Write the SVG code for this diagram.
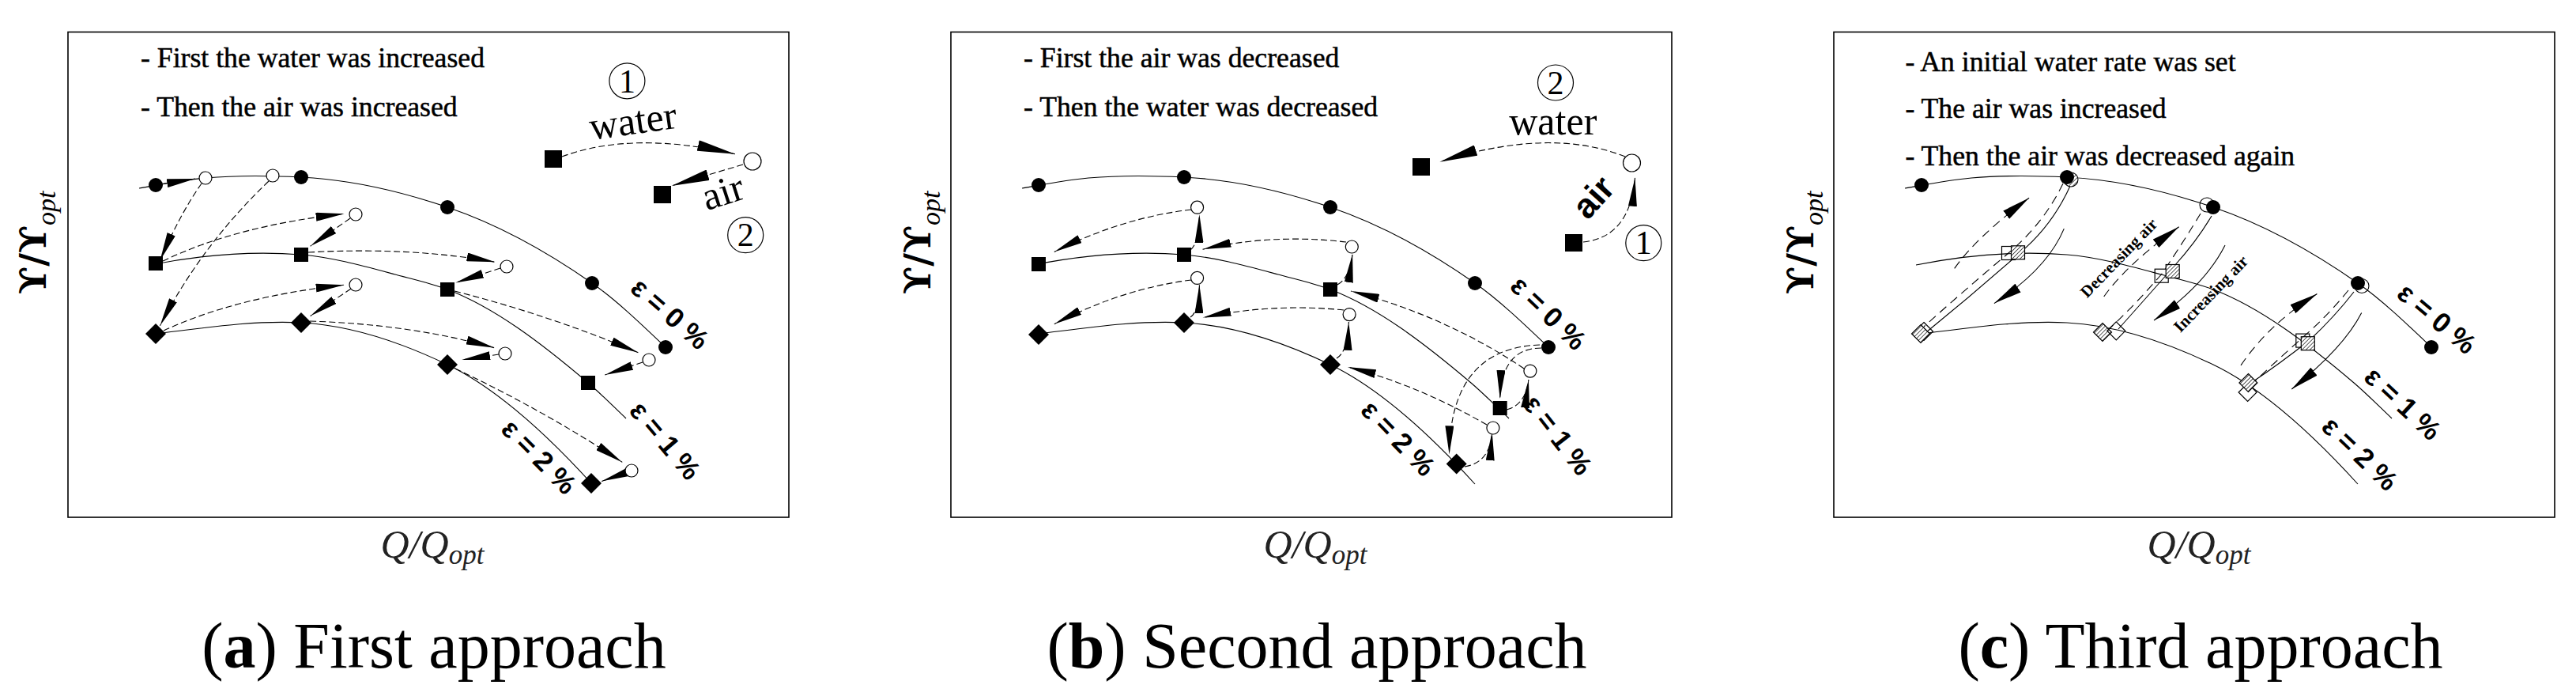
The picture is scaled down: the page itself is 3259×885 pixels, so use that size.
<svg xmlns="http://www.w3.org/2000/svg" xmlns:xlink="http://www.w3.org/1999/xlink" width="3259" height="885" viewBox="0 0 3259 885">
<style>
.frame{fill:none;stroke:#000;stroke-width:1.6}
.curve{fill:none;stroke:#000;stroke-width:1.1}
.dash{fill:none;stroke:#000;stroke-width:1.1;stroke-dasharray:8 4;marker-end:url(#ah)}
.dashL{fill:none;stroke:#000;stroke-width:1.1;stroke-dasharray:8 4;marker-end:url(#ahL)}
.dashc{fill:none;stroke:#000;stroke-width:1.1;stroke-dasharray:11 7}
.dashcA{fill:none;stroke:#000;stroke-width:1.1;stroke-dasharray:11 7;marker-end:url(#ahC)}
.solidA{fill:none;stroke:#000;stroke-width:1.1;marker-end:url(#ahC)}
.thin{fill:none;stroke:#000;stroke-width:1.1}
.ring{fill:none;stroke:#000;stroke-width:1.2}
.note{font-family:"Liberation Serif",serif;font-size:35.7px;fill:#000;stroke:#000;stroke-width:0.5}
.eps{font-family:"Liberation Sans",sans-serif;font-weight:bold;font-size:35px;text-anchor:middle}
.big{font-family:"Liberation Serif",serif;font-size:50px;text-anchor:middle}
.bigs{font-family:"Liberation Sans",sans-serif;font-weight:bold;font-size:44px;text-anchor:middle}
.num{font-family:"Liberation Serif",serif;font-size:42px;text-anchor:middle}
.tag{font-family:"Liberation Serif",serif;font-weight:bold;font-size:21px;text-anchor:middle}
.xl{font-family:"Liberation Serif",serif;font-style:italic;font-size:50px;fill:#222;text-anchor:middle}
.yl{font-family:"DejaVu Serif",serif;font-weight:bold;font-size:46px}
.cap{font-family:"Liberation Serif",serif;font-size:82px;text-anchor:middle}
</style>
<defs>
<marker id="ah" viewBox="0 0 36 11" refX="36" refY="5.5" markerWidth="36" markerHeight="11" markerUnits="userSpaceOnUse" orient="auto"><path d="M0,0 L36,5.5 L0,11 Z" fill="#000"/></marker>
<marker id="ahL" viewBox="0 0 48 14" refX="48" refY="7" markerWidth="48" markerHeight="14" markerUnits="userSpaceOnUse" orient="auto"><path d="M0,0 L48,7 L0,14 Z" fill="#000"/></marker>
<marker id="ahC" viewBox="0 0 36 13" refX="36" refY="6.5" markerWidth="36" markerHeight="13" markerUnits="userSpaceOnUse" orient="auto"><path d="M0,0 L36,6.5 L0,13 Z" fill="#000"/></marker>
<pattern id="hatch" patternUnits="userSpaceOnUse" width="3.5" height="3.5" patternTransform="rotate(45)"><rect width="3.5" height="3.5" fill="#fff"/><line x1="0" y1="0" x2="0" y2="3.5" stroke="#000" stroke-width="1.3"/></pattern>
<path id="top" d="M176,238 C204,233 232,227.5 260,225 C300.3,221.4 340.7,222 381,224 C442.7,227.1 504.3,241 566,262 C627,282.7 688,315.3 749,358 C780,379.7 811,409.5 842,439"/>
<path id="mid" d="M190,335 C253.7,322.3 317.3,316.9 381,322 C420.7,325.2 460.3,336.3 500,347 C522,352.9 544,357.6 566,366 C625.3,388.5 684.7,433.6 744,484 C760,497.6 776,513.8 792,529"/>
<path id="bot" d="M197,422 C258.3,414.6 319.7,404.9 381,408 C442.7,411.1 504.3,431.4 566,461 C627,490.3 688,544.9 749,612"/>
<circle id="fc" r="9" fill="#000"/>
<circle id="oc" r="8" fill="#fff" stroke="#000" stroke-width="1.2"/>
<rect id="sq" x="-9" y="-9" width="18" height="18" fill="#000"/>
<path id="dm" d="M0,-13 L13,0 L0,13 L-13,0 Z" fill="#000"/>
<rect id="sqL" x="-11" y="-11" width="22" height="22" fill="#000"/>
<circle id="ocL" r="11" fill="#fff" stroke="#000" stroke-width="1.2"/>
<rect id="sqo" x="-8.5" y="-8.5" width="17" height="17" fill="none" stroke="#000" stroke-width="1.2"/>
<rect id="sqh" x="-8.5" y="-8.5" width="17" height="17" fill="url(#hatch)" stroke="#000" stroke-width="1.2"/>
<path id="dmo" d="M0,-11.5 L11.5,0 L0,11.5 L-11.5,0 Z" fill="none" stroke="#000" stroke-width="1.2"/>
<path id="dmh" d="M0,-11.5 L11.5,0 L0,11.5 L-11.5,0 Z" fill="url(#hatch)" stroke="#000" stroke-width="1.2"/>
<circle id="och" r="9" fill="url(#hatch)" stroke="#000" stroke-width="1.1"/>
<circle id="oco" r="9" fill="none" stroke="#000" stroke-width="1.1"/>
</defs>
<rect width="3259" height="885" fill="#fff"/>

<!-- ================= PANEL A ================= -->
<g id="panel-a">
<rect class="frame" x="86" y="40.5" width="912" height="613.5"/>
<text class="note" x="178" y="85">- First the water was increased</text>
<text class="note" x="178" y="146.5">- Then the air was increased</text>
<g id="a-curves">
<use href="#top" class="curve"/><use href="#mid" class="curve"/><use href="#bot" class="curve"/>
</g>
<g id="a-connectors">
<path class="dash" d="M206,232.5 L247,226"/>
<path class="dash" d="M255,232 Q228,270 202.5,329.3"/>
<path class="dash" d="M340,229 Q255,310 202.5,411.7"/>
<path class="dash" d="M206,330 Q300,285 435.6,270.3"/>
<path class="dash" d="M443,276 L392.6,311.2"/>
<path class="dash" d="M390,319 Q520,312 626.4,331.3"/>
<path class="dash" d="M633,339 L576.2,357.4"/>
<path class="dash" d="M207,418 Q300,375 435.6,360.2"/>
<path class="dash" d="M444,365 L392.6,399.6"/>
<path class="dash" d="M392,406 Q520,410 625.6,439.8"/>
<path class="dash" d="M631,448 L584.2,455"/>
<path class="dash" d="M575,368 Q700,400 807.4,445.8"/>
<path class="dash" d="M813,458 L765.3,474"/>
<path class="dash" d="M576,466 Q690,520 787.3,584.4"/>
<path class="dash" d="M791,598 L761.2,608.5"/>
<path class="dashL" d="M711,198 Q800,165 930,194.7"/>
<path class="dashL" d="M940,208 L849.6,234.9"/>
</g>
<g id="a-c1"><use href="#fc" x="197" y="234"/></g>
<g id="a-c2"><use href="#fc" x="381" y="224"/></g>
<g id="a-c3"><use href="#fc" x="566" y="262"/></g>
<g id="a-c4"><use href="#fc" x="749" y="358"/></g>
<g id="a-c5"><use href="#fc" x="842" y="439"/></g>
<g id="a-o1"><use href="#oc" x="260" y="225"/></g>
<g id="a-o2"><use href="#oc" x="345" y="222"/></g>
<g id="a-o3"><use href="#oc" x="450" y="271"/></g>
<g id="a-o4"><use href="#oc" x="641" y="337"/></g>
<g id="a-o5"><use href="#oc" x="450" y="360"/></g>
<g id="a-o6"><use href="#oc" x="639" y="447"/></g>
<g id="a-o7"><use href="#oc" x="821" y="455"/></g>
<g id="a-o8"><use href="#oc" x="799" y="595"/></g>
<g id="a-s1"><use href="#sq" x="197" y="333"/></g>
<g id="a-s2"><use href="#sq" x="381" y="322"/></g>
<g id="a-s3"><use href="#sq" x="566" y="366"/></g>
<g id="a-s4"><use href="#sq" x="744" y="484"/></g>
<g id="a-d1"><use href="#dm" x="197" y="422"/></g>
<g id="a-d2"><use href="#dm" x="381" y="408"/></g>
<g id="a-d3"><use href="#dm" x="566" y="461"/></g>
<g id="a-d4"><use href="#dm" x="748" y="611"/></g>
<g id="a-l1"><use href="#sqL" x="700" y="201"/></g>
<g id="a-l2"><use href="#ocL" x="952" y="204"/></g>
<g id="a-l3"><use href="#sqL" x="838" y="246"/></g>
<g id="a-n1"><circle class="ring" cx="793.4" cy="102.3" r="22.5"/><text class="num" x="793.4" y="116.5">1</text></g>
<g id="a-n2"><circle class="ring" cx="943.2" cy="297.2" r="22.5"/><text class="num" x="943.2" y="311.4">2</text></g>
<text class="big" transform="translate(801.4,158.4) rotate(-8)" y="11">water</text>
<text class="big" transform="translate(916,248) rotate(-18)" y="11">air</text>
<text class="eps" transform="translate(847.6,396.6) rotate(41)" y="12">ε = 0 %</text>
<text class="eps" transform="translate(841.6,557) rotate(50)" y="12">ε = 1 %</text>
<text class="eps" transform="translate(682,577.4) rotate(45)" y="12">ε = 2 %</text>
<text class="yl" transform="translate(58,372) rotate(-90)">ϒ/ϒ<tspan font-family="Liberation Serif" font-style="italic" font-weight="normal" font-size="34" dy="12">opt</tspan></text>
<text class="xl" x="547" y="705">Q/Q<tspan font-size="35" dy="8">opt</tspan></text>
<text class="cap" x="549" y="844">(<tspan font-weight="bold">a</tspan>) First approach</text>
</g>

<!-- ================= PANEL B ================= -->
<g id="panel-b" transform="translate(1117,0)">
<rect class="frame" x="86" y="40.5" width="912" height="613.5"/>
<text class="note" x="178" y="85.4">- First the air was decreased</text>
<text class="note" x="178" y="147.3">- Then the water was decreased</text>
<g id="b-curves">
<use href="#top" class="curve"/><use href="#mid" class="curve"/><use href="#bot" class="curve"/>
</g>
<g id="b-connectors">
<path class="dashL" d="M939,198 Q843,160 704.4,204.8"/>
<path class="dash" d="M886,306 Q945,300 951.5,224.9"/>
<path class="dash" d="M390,265 Q303,275 216.8,318.5"/>
<path class="dash" d="M389,316 Q400,308 400.4,271"/>
<path class="dash" d="M586,306 Q493,295 404.5,315.3"/>
<path class="dash" d="M575,360 Q590,352 594.1,321.3"/>
<path class="dash" d="M390,354 Q303,365 216.8,409.7"/>
<path class="dash" d="M389,401 Q400,394 400.4,360.3"/>
<path class="dash" d="M583,392 Q493,383 404.5,401.6"/>
<path class="dash" d="M574,453 Q588,445 589.3,406.9"/>
<path class="dash" d="M833,440 Q783,440 780.7,504"/>
<path class="dash" d="M831,436 Q718,440 716.5,574.4"/>
<path class="dash" d="M789,518 Q813,512 816.9,480"/>
<path class="dash" d="M736,590 Q768,585 770.7,546.3"/>
<path class="dash" d="M811,466 Q713,400 592,368"/>
<path class="dash" d="M764,537 Q673,485 587.9,463.9"/>
</g>
<g id="b-c1"><use href="#fc" x="197" y="234"/></g>
<g id="b-c2"><use href="#fc" x="381" y="224"/></g>
<g id="b-c3"><use href="#fc" x="566" y="262"/></g>
<g id="b-c4"><use href="#fc" x="749" y="358"/></g>
<g id="b-c5"><use href="#fc" x="842" y="439"/></g>
<g id="b-o1"><use href="#oc" x="397.6" y="262.2"/></g>
<g id="b-o2"><use href="#oc" x="593.3" y="312"/></g>
<g id="b-o3"><use href="#oc" x="397.6" y="351.4"/></g>
<g id="b-o4"><use href="#oc" x="590.1" y="397.6"/></g>
<g id="b-o5"><use href="#oc" x="818.9" y="469.1"/></g>
<g id="b-o6"><use href="#oc" x="771.9" y="541"/></g>
<g id="b-s1"><use href="#sq" x="197" y="334"/></g>
<g id="b-s2"><use href="#sq" x="381" y="322"/></g>
<g id="b-s3"><use href="#sq" x="566" y="366"/></g>
<g id="b-s4"><use href="#sq" x="780.7" y="516"/></g>
<g id="b-d1"><use href="#dm" x="197" y="423"/></g>
<g id="b-d2"><use href="#dm" x="381" y="408"/></g>
<g id="b-d3"><use href="#dm" x="566" y="461"/></g>
<g id="b-d4"><use href="#dm" x="725.7" y="586.4"/></g>
<g id="b-l1"><use href="#ocL" x="947.5" y="206"/></g>
<g id="b-l2"><use href="#sqL" x="681" y="211"/></g>
<g id="b-l3"><use href="#sqL" x="874" y="307"/></g>
<g id="b-n2"><circle class="ring" cx="851" cy="104.5" r="22.5"/><text class="num" x="851" y="118.7">2</text></g>
<g id="b-n1"><circle class="ring" cx="962.3" cy="307.2" r="22.5"/><text class="num" x="962.3" y="321.4">1</text></g>
<text class="big" x="847.8" y="170">water</text>
<text class="bigs" transform="translate(901.7,251.8) rotate(-48)" y="11">air</text>
<text class="eps" transform="translate(842,395.6) rotate(44)" y="12">ε = 0 %</text>
<text class="eps" transform="translate(854,550) rotate(52)" y="12">ε = 1 %</text>
<text class="eps" transform="translate(652,554) rotate(46)" y="12">ε = 2 %</text>
<text class="yl" transform="translate(60,372) rotate(-90)">ϒ/ϒ<tspan font-family="Liberation Serif" font-style="italic" font-weight="normal" font-size="34" dy="12">opt</tspan></text>
<text class="xl" x="547" y="705">Q/Q<tspan font-size="35" dy="8">opt</tspan></text>
<text class="cap" x="549" y="844">(<tspan font-weight="bold">b</tspan>) Second approach</text>
</g>

<!-- ================= PANEL C ================= -->
<g id="panel-c" transform="translate(2234,0)">
<rect class="frame" x="86" y="40.5" width="912" height="613.5"/>
<text class="note" x="176.4" y="90.3">- An initial water rate was set</text>
<text class="note" x="176.4" y="148.5">- The air was increased</text>
<text class="note" x="176.4" y="208.8">- Then the air was decreased again</text>
<g id="c-curves">
<use href="#top" class="curve"/><use href="#mid" class="curve"/><use href="#bot" class="curve"/>
</g>
<g id="c-connectors">
<path class="thin" d="M386,233 Q363,285 321,320 Q262,372 203,420"/>
<path class="dashc" d="M376,232 Q352,282 307,320 Q250,368 200,413"/>
<path class="thin" d="M564,273 Q545,305 517,336 Q480,378 446,416"/>
<path class="dashc" d="M550,270 Q532,300 502,345 Q468,385 432,418"/>
<path class="thin" d="M744,369 Q720,400 688,430 Q650,460 614,484"/>
<path class="dashc" d="M737,367 Q712,398 680,426 Q642,460 610,490"/>
<path class="dashcA" d="M238.7,339.4 Q266,300 333.1,250.2"/>
<path class="solidA" d="M377.3,289.1 Q356,340 288.9,383.6"/>
<path class="dashcA" d="M427.7,375 Q456,335 522.7,286.7"/>
<path class="solidA" d="M581,310 Q556,360 491,405"/>
<path class="dashcA" d="M601,461.9 Q636,410 697.4,371.5"/>
<path class="solidA" d="M753.7,395.6 Q731,440 665.3,492"/>
</g>
<g id="c-c1"><use href="#fc" x="197" y="234"/></g>
<g id="c-h1"><use href="#och" x="386" y="227"/></g>
<g id="c-c2"><use href="#fc" x="381" y="224"/></g>
<g id="c-o2"><use href="#oco" x="558" y="259"/></g>
<g id="c-c3"><use href="#fc" x="566" y="262"/></g>
<g id="c-c4"><use href="#fc" x="749" y="358"/></g>
<g id="c-o4"><use href="#oco" x="754" y="361.5"/></g>
<g id="c-c5"><use href="#fc" x="842" y="439"/></g>
<g id="c-so1"><use href="#sqo" x="307" y="320"/></g>
<g id="c-sh1"><use href="#sqh" x="319" y="319.3"/></g>
<g id="c-so2"><use href="#sqo" x="500.7" y="348.7"/></g>
<g id="c-sh2"><use href="#sqh" x="514.7" y="343"/></g>
<g id="c-so3"><use href="#sqo" x="679.3" y="430.6"/></g>
<g id="c-sh3"><use href="#sqh" x="685.8" y="434.2"/></g>
<g id="c-do1"><use href="#dmo" x="200" y="419"/></g>
<g id="c-dh1"><use href="#dmh" x="196" y="422"/></g>
<g id="c-dh2"><use href="#dmh" x="426" y="420"/></g>
<g id="c-do2"><use href="#dmo" x="443.3" y="418.3"/></g>
<g id="c-do3"><use href="#dmo" x="609.6" y="496"/></g>
<g id="c-dh3"><use href="#dmh" x="610.4" y="484"/></g>
<text class="tag" transform="translate(446.6,326) rotate(-46)" y="7">Decreasing air</text>
<text class="tag" transform="translate(563,371.5) rotate(-46)" y="7">Increasing air</text>
<text class="eps" transform="translate(849,402.7) rotate(40)" y="12">ε = 0 %</text>
<text class="eps" transform="translate(806,510) rotate(43)" y="12">ε = 1 %</text>
<text class="eps" transform="translate(751.6,573.4) rotate(44)" y="12">ε = 2 %</text>
<text class="yl" transform="translate(60,372) rotate(-90)">ϒ/ϒ<tspan font-family="Liberation Serif" font-style="italic" font-weight="normal" font-size="34" dy="12">opt</tspan></text>
<text class="xl" x="548" y="705">Q/Q<tspan font-size="35" dy="8">opt</tspan></text>
<text class="cap" x="550" y="844">(<tspan font-weight="bold">c</tspan>) Third approach</text>
</g>
</svg>
